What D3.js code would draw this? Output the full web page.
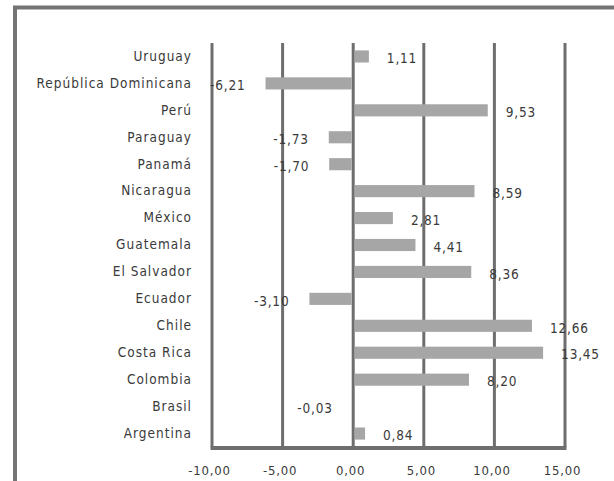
<!DOCTYPE html>
<html>
<head>
<meta charset="utf-8">
<script src="https://cdn.jsdelivr.net/npm/d3@7"></script>
<style>
  html, body { margin: 0; padding: 0; background: #fff; }
  svg { display: block; }
  text { font-family: "Liberation Sans Narrow", "DejaVu Sans Condensed", "Liberation Sans", sans-serif; fill: #3a3a3a; }
</style>
</head>
<body>
<svg id="chart" width="614" height="481"></svg>
<script>
// Countries, top to bottom
const countries = [
  "Uruguay", "República Dominicana", "Perú", "Paraguay", "Panamá",
  "Nicaragua", "México", "Guatemala", "El Salvador", "Ecuador",
  "Chile", "Costa Rica", "Colombia", "Brasil", "Argentina"
];
const values = [
  1.11, -6.21, 9.53, -1.73, -1.70,
  8.59, 2.81, 4.41, 8.36, -3.10,
  12.66, 13.45, 8.20, -0.03, 0.84
];
const tickValues = [-10, -5, 0, 5, 10, 15];

const fmt = v => v.toFixed(2).replace(".", ",");

const svg = d3.select("#chart");

// Outer chart frame (runs past the right and bottom edges)
svg.append("rect")
  .attr("x", 15).attr("y", 7.5)
  .attr("width", 700).attr("height", 600)
  .attr("fill", "none")
  .attr("stroke", "#747474")
  .attr("stroke-width", 4);

const plot = { left: 212, right: 565, top: 43, bottom: 447 };

const x = d3.scaleLinear().domain([-10, 15]).range([plot.left, plot.right]);
const y = d3.scaleBand().domain(countries).range([plot.top, plot.bottom]).paddingInner(0.55).paddingOuter(0.275);

// Vertical gridlines
svg.append("g").selectAll("line")
  .data(tickValues)
  .join("line")
  .attr("x1", d => x(d)).attr("x2", d => x(d))
  .attr("y1", plot.top).attr("y2", plot.bottom)
  .attr("stroke", "#6e6e6e")
  .attr("stroke-width", 3);

// Bars
svg.append("g").selectAll("rect")
  .data(countries.map((c, i) => ({ c, v: values[i] })))
  .join("rect")
  .attr("x", d => Math.min(x(0), x(d.v)) + (d.v >= 0 ? 1.5 : 0))
  .attr("y", d => y(d.c))
  .attr("width", d => Math.max(0, Math.abs(x(d.v) - x(0)) - 1.5))
  .attr("height", y.bandwidth())
  .attr("fill", "#a6a6a6");

// Bottom axis line
svg.append("line")
  .attr("x1", plot.left - 1.5).attr("x2", plot.right + 1.5)
  .attr("y1", plot.bottom + 1).attr("y2", plot.bottom + 1)
  .attr("stroke", "#6e6e6e")
  .attr("stroke-width", 4);

// Category labels
const yAxis = d3.axisLeft(y).tickSize(0).tickPadding(0);
const gy = svg.append("g").attr("transform", `translate(${plot.left - 20},0)`).call(yAxis);
gy.select(".domain").remove();
gy.selectAll("text")
  .attr("font-size", 13.5)
  .attr("letter-spacing", "1px")
  .style("font-family", "'Liberation Sans Narrow', 'DejaVu Sans Condensed', sans-serif")
  .attr("fill", "#3a3a3a");

// Value axis tick labels
const xAxis = d3.axisBottom(x).tickValues(tickValues).tickSize(0).tickPadding(0).tickFormat(fmt);
const gx = svg.append("g").attr("transform", `translate(-3,${plot.bottom + 19})`).call(xAxis);
gx.select(".domain").remove();
gx.selectAll("text")
  .attr("font-size", 13)
  .attr("letter-spacing", "0.8px")
  .style("font-family", "'Liberation Sans Narrow', 'DejaVu Sans Condensed', sans-serif")
  .attr("fill", "#3a3a3a");

// Value labels
svg.append("g").selectAll("text")
  .data(countries.map((c, i) => ({ c, v: values[i] })))
  .join("text")
  .attr("x", d => d.v >= 0 ? x(d.v) + 18 : x(d.v) - 20)
  .attr("y", d => y(d.c) + y.bandwidth() / 2 + 2)
  .attr("dy", "0.35em")
  .attr("text-anchor", d => d.v >= 0 ? "start" : "end")
  .attr("font-size", 13.5)
  .attr("letter-spacing", "0.8px")
  .text(d => fmt(d.v));
</script>
</body>
</html>
